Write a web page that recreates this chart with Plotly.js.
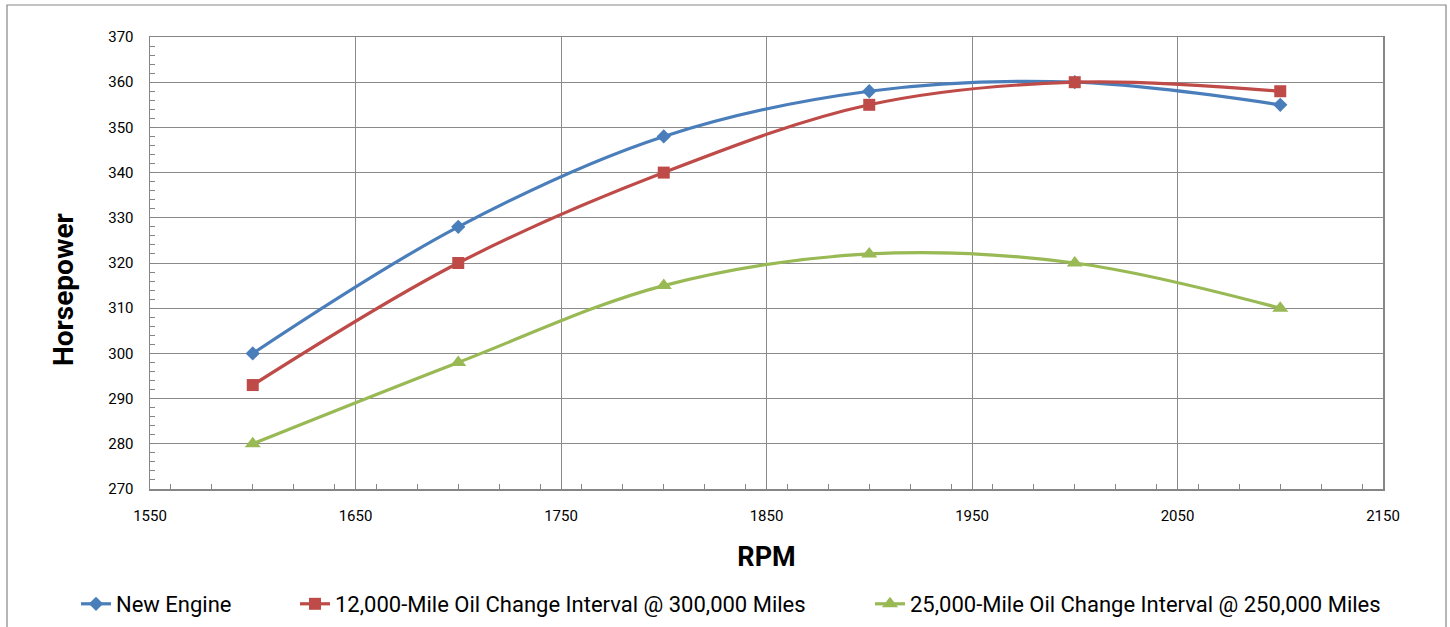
<!DOCTYPE html>
<html>
<head>
<meta charset="utf-8">
<script src="https://cdn.plot.ly/plotly-3.0.1.min.js"></script>
<style>
  html, body { margin: 0; padding: 0; background: #fff; }
  #chart { width: 1450px; height: 627px; }
</style>
</head>
<body>
<div id="chart"></div>
<script>
// Data
const rpm = [1600, 1700, 1800, 1900, 2000, 2100];
const newEngine = [300, 328, 348, 358, 360, 355];
const interval12k = [293, 320, 340, 355, 360, 358];
const interval25k = [280, 298, 315, 322, 320, 310];
const seriesNames = [
  'New Engine',
  '12,000-Mile Oil Change Interval @ 300,000 Miles',
  '25,000-Mile Oil Change Interval @ 250,000 Miles'
];
const xTitle = 'RPM';
const yTitle = 'Horsepower';

const W = 1450, H = 627;
const M = { l: 150, r: 67, t: 37, b: 138 };
const pw = W - M.l - M.r, ph = H - M.t - M.b;
const px = v => (v - M.l) / pw;          // pixel x -> paper x
const py = v => 1 - (v - M.t) / ph;      // pixel y -> paper y

const FONT = 'Roboto, "Liberation Sans", sans-serif';

const traces = [
  {
    x: rpm, y: newEngine, name: seriesNames[0], type: 'scatter', mode: 'lines+markers',
    line: { color: '#4A7EBB', width: 3.2, shape: 'spline', smoothing: 1 },
    marker: { symbol: 'diamond', size: 11, color: '#4A7EBB' },
    legend: 'legend'
  },
  {
    x: rpm, y: interval12k, name: seriesNames[1], type: 'scatter', mode: 'lines+markers',
    line: { color: '#BE4B48', width: 3.2, shape: 'spline', smoothing: 1 },
    marker: { symbol: 'square', size: 12, color: '#BE4B48' },
    legend: 'legend2'
  },
  {
    x: rpm, y: interval25k, name: seriesNames[2], type: 'scatter', mode: 'lines+markers',
    line: { color: '#98B954', width: 3.2, shape: 'spline', smoothing: 1 },
    marker: { symbol: 'triangle-up', size: 14, color: '#98B954' },
    legend: 'legend3'
  }
];

const legendBase = {
  orientation: 'h', xref: 'container', yref: 'container',
  xanchor: 'left', yanchor: 'middle', y: 1 - 604 / H,
  font: { family: FONT, size: 22, color: '#000' },
  bgcolor: 'rgba(0,0,0,0)', borderwidth: 0
};

const layout = {
  width: W, height: H,
  margin: M,
  paper_bgcolor: '#fff', plot_bgcolor: '#fff',
  font: { family: FONT, color: '#000' },
  showlegend: true,
  legend: Object.assign({}, legendBase, { x: 76 / W }),
  legend2: Object.assign({}, legendBase, { x: 295 / W }),
  legend3: Object.assign({}, legendBase, { x: 870 / W }),
  xaxis: {
    range: [1550, 2150], dtick: 100, tick0: 1550,
    automargin: false,
    showgrid: true, gridcolor: '#8a8a8a', gridwidth: 1,
    showline: true, linecolor: '#868686', linewidth: 1.5, mirror: true,
    ticks: 'inside', ticklen: 5, tickcolor: '#868686',
    minor: { dtick: 20, ticks: 'inside', ticklen: 5, tickcolor: '#868686', showgrid: false },
    tickfont: { family: FONT, size: 15, color: '#000' },
    ticklabelstandoff: 12,
    zeroline: false,
    title: { text: xTitle, font: { family: FONT, size: 27, color: '#000', weight: 'bold' }, standoff: 23 }
  },
  yaxis: {
    range: [270, 370], dtick: 10, tick0: 270,
    automargin: false,
    showgrid: true, gridcolor: '#8a8a8a', gridwidth: 1,
    showline: true, linecolor: '#868686', linewidth: 1.5, mirror: true,
    ticks: 'inside', ticklen: 5, tickcolor: '#868686',
    minor: { dtick: 2, ticks: 'inside', ticklen: 5, tickcolor: '#868686', showgrid: false },
    tickfont: { family: FONT, size: 15, color: '#000' },
    ticklabelstandoff: 12,
    zeroline: false
  },
  annotations: [{
    text: yTitle, xref: 'paper', yref: 'paper', x: px(63), y: py(290),
    xanchor: 'center', yanchor: 'middle', textangle: -90, showarrow: false,
    font: { family: FONT, size: 28, color: '#000', weight: 'bold' }
  }],
  shapes: [{
    type: 'rect', xref: 'paper', yref: 'paper', layer: 'below',
    x0: px(7), x1: px(1446), y0: py(700), y1: py(5),
    line: { color: '#868686', width: 1.2 }, fillcolor: 'rgba(0,0,0,0)'
  }]
};

Plotly.newPlot('chart', traces, layout, { displayModeBar: false, staticPlot: true });
</script>
</body>
</html>
